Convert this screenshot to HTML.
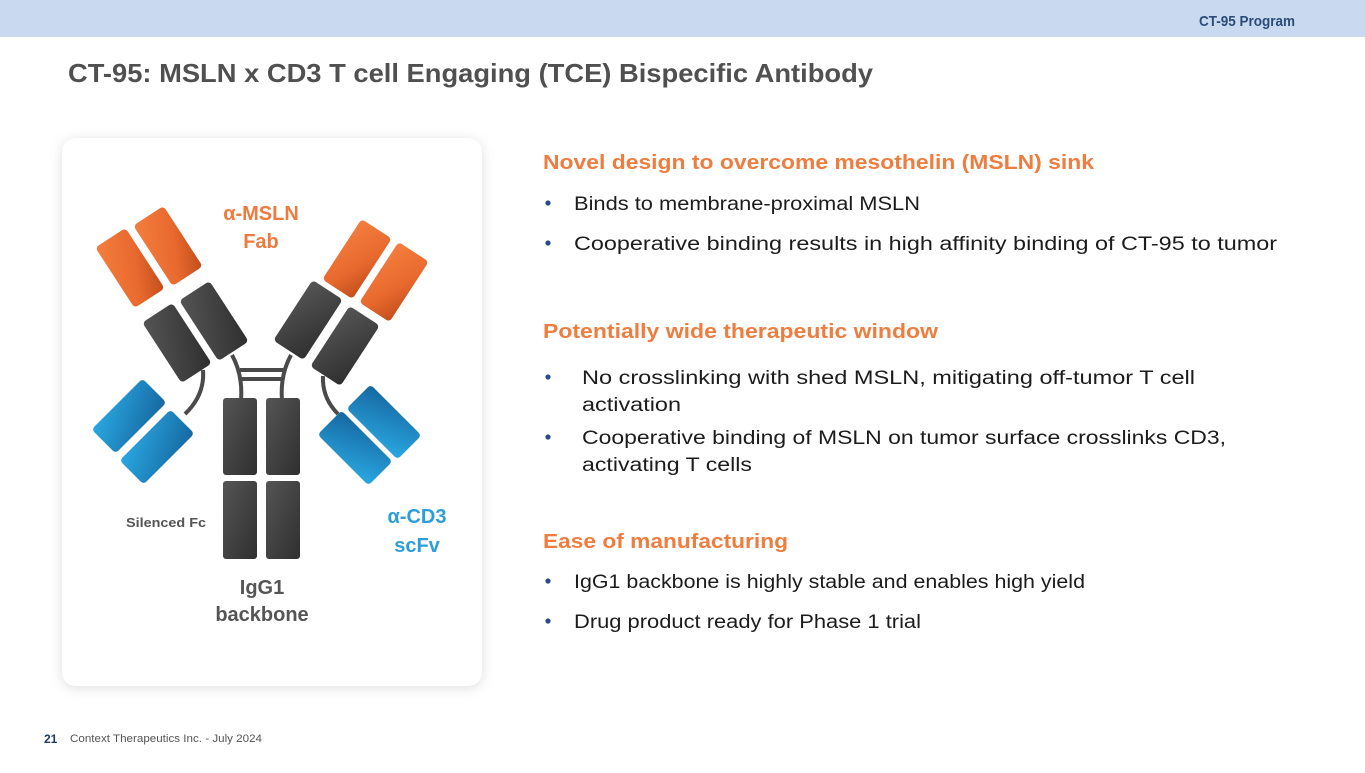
<!DOCTYPE html>
<html><head><meta charset="utf-8"><style>
html,body{margin:0;padding:0;background:#fff;}
body{width:1365px;height:768px;overflow:hidden;font-family:"Liberation Sans",sans-serif;}
</style></head><body>
<svg width="1365" height="768" viewBox="0 0 1365 768" xmlns="http://www.w3.org/2000/svg" font-family="Liberation Sans, sans-serif">
<defs>
<linearGradient id="og" x1="0" y1="0" x2="1" y2="1"><stop offset="0" stop-color="#f47e3e"/><stop offset="0.6" stop-color="#e8692e"/><stop offset="1" stop-color="#c24e1c"/></linearGradient>
<linearGradient id="dg" x1="0" y1="0" x2="1" y2="1"><stop offset="0" stop-color="#555"/><stop offset="1" stop-color="#2f2f2f"/></linearGradient>
<linearGradient id="bg" x1="0" y1="1" x2="1" y2="0"><stop offset="0" stop-color="#2aa8e2"/><stop offset="1" stop-color="#1667a0"/></linearGradient>
<filter id="sh" x="-10%" y="-10%" width="120%" height="120%"><feDropShadow dx="0" dy="2" stdDeviation="6" flood-color="#000" flood-opacity="0.13"/></filter>
</defs>
<rect x="0" y="0" width="1365" height="37" fill="#c8d9f0"/>
<text x="1295" y="26" text-anchor="end" font-size="15" font-weight="bold" fill="#2b4c78" textLength="96" lengthAdjust="spacingAndGlyphs">CT-95 Program</text>
<text x="68" y="82" font-size="26" font-weight="bold" fill="#505050" textLength="805" lengthAdjust="spacingAndGlyphs">CT-95: MSLN x CD3 T cell Engaging (TCE) Bispecific Antibody</text>

<rect x="62" y="138" width="420" height="548" rx="14" fill="#fff" filter="url(#sh)"/>

<g stroke="#4a4a4a" stroke-width="4" fill="none">
<path d="M232 355 Q243 375 241 400"/>
<path d="M291 355 Q280 375 282 400"/>
<line x1="240" y1="370" x2="284" y2="370"/>
<line x1="241" y1="379" x2="283" y2="379"/>
<path d="M203 370 Q205 395 185 414"/>
<path d="M323 376 Q322 398 338 414"/>
<line x1="197" y1="357" x2="202" y2="354"/>
<line x1="327" y1="359" x2="333" y2="362"/>
</g>

<rect x="223" y="398" width="34" height="77" rx="3" fill="url(#dg)"/>
<rect x="266" y="398" width="34" height="77" rx="3" fill="url(#dg)"/>
<rect x="223" y="481" width="34" height="78" rx="3" fill="url(#dg)"/>
<rect x="266" y="481" width="34" height="78" rx="3" fill="url(#dg)"/>

<g transform="translate(130,268) rotate(-33)"><rect x="-18" y="-36" width="36" height="72" rx="4" fill="url(#og)"/></g>
<g transform="translate(168,246) rotate(-33)"><rect x="-18" y="-36" width="36" height="72" rx="4" fill="url(#og)"/></g>
<g transform="translate(177,343) rotate(-33)"><rect x="-18" y="-36" width="36" height="72" rx="4" fill="url(#dg)"/></g>
<g transform="translate(214,321) rotate(-33)"><rect x="-18" y="-36" width="36" height="72" rx="4" fill="url(#dg)"/></g>
<g transform="translate(357,259) rotate(33)"><rect x="-18" y="-36" width="36" height="72" rx="4" fill="url(#og)"/></g>
<g transform="translate(394,282) rotate(33)"><rect x="-18" y="-36" width="36" height="72" rx="4" fill="url(#og)"/></g>
<g transform="translate(308,320) rotate(33)"><rect x="-18" y="-36" width="36" height="72" rx="4" fill="url(#dg)"/></g>
<g transform="translate(345,346) rotate(33)"><rect x="-18" y="-36" width="36" height="72" rx="4" fill="url(#dg)"/></g>
<g transform="translate(129,416) rotate(45)"><rect x="-17" y="-36" width="34" height="72" rx="4" fill="url(#bg)"/></g>
<g transform="translate(157,447) rotate(45)"><rect x="-17" y="-36" width="34" height="72" rx="4" fill="url(#bg)"/></g>
<g transform="translate(384,422) rotate(-45)"><rect x="-17" y="-36" width="34" height="72" rx="4" fill="url(#bg)"/></g>
<g transform="translate(355,448) rotate(-45)"><rect x="-17" y="-36" width="34" height="72" rx="4" fill="url(#bg)"/></g>

<g font-weight="bold" text-anchor="middle" font-size="20">
<text x="261" y="220" fill="#ee7a3e">α-MSLN</text>
<text x="261" y="248" fill="#ee7a3e">Fab</text>
<text x="417" y="523" fill="#2d9ed8">α-CD3</text>
<text x="417" y="552" fill="#2d9ed8">scFv</text>
<text x="262" y="594" fill="#555">IgG1</text>
<text x="262" y="621" fill="#555">backbone</text>
</g>
<text x="126" y="527" font-size="13" font-weight="bold" fill="#555" textLength="80" lengthAdjust="spacingAndGlyphs">Silenced Fc</text>

<g font-size="20" font-weight="bold" fill="#ee7d3f">
<text x="543" y="169" textLength="551" lengthAdjust="spacingAndGlyphs">Novel design to overcome mesothelin (MSLN) sink</text>
<text x="543" y="338" textLength="395" lengthAdjust="spacingAndGlyphs">Potentially wide therapeutic window</text>
<text x="543" y="548" textLength="245" lengthAdjust="spacingAndGlyphs">Ease of manufacturing</text>
</g>
<g fill="#2b4a8c">
<circle cx="548" cy="203" r="2.6"/><circle cx="548" cy="243" r="2.6"/>
<circle cx="548" cy="377" r="2.6"/><circle cx="548" cy="437" r="2.6"/>
<circle cx="548" cy="581" r="2.6"/><circle cx="548" cy="621" r="2.6"/>
</g>
<g font-size="19" fill="#1c1c1c">
<text x="574" y="210" textLength="346" lengthAdjust="spacingAndGlyphs">Binds to membrane-proximal MSLN</text>
<text x="574" y="250" textLength="703" lengthAdjust="spacingAndGlyphs">Cooperative binding results in high affinity binding of CT-95 to tumor</text>
<text x="582" y="384" textLength="613" lengthAdjust="spacingAndGlyphs">No crosslinking with shed MSLN, mitigating off-tumor T cell</text>
<text x="582" y="411" textLength="99" lengthAdjust="spacingAndGlyphs">activation</text>
<text x="582" y="444" textLength="644" lengthAdjust="spacingAndGlyphs">Cooperative binding of MSLN on tumor surface crosslinks CD3,</text>
<text x="582" y="471" textLength="170" lengthAdjust="spacingAndGlyphs">activating T cells</text>
<text x="574" y="588" textLength="511" lengthAdjust="spacingAndGlyphs">IgG1 backbone is highly stable and enables high yield</text>
<text x="574" y="628" textLength="347" lengthAdjust="spacingAndGlyphs">Drug product ready for Phase 1 trial</text>
</g>
<text x="44" y="743" font-size="12" font-weight="bold" fill="#1f3a60">21</text>
<text x="70" y="742" font-size="11" fill="#555" textLength="192" lengthAdjust="spacingAndGlyphs">Context Therapeutics Inc. -  July 2024</text>
</svg>
</body></html>
